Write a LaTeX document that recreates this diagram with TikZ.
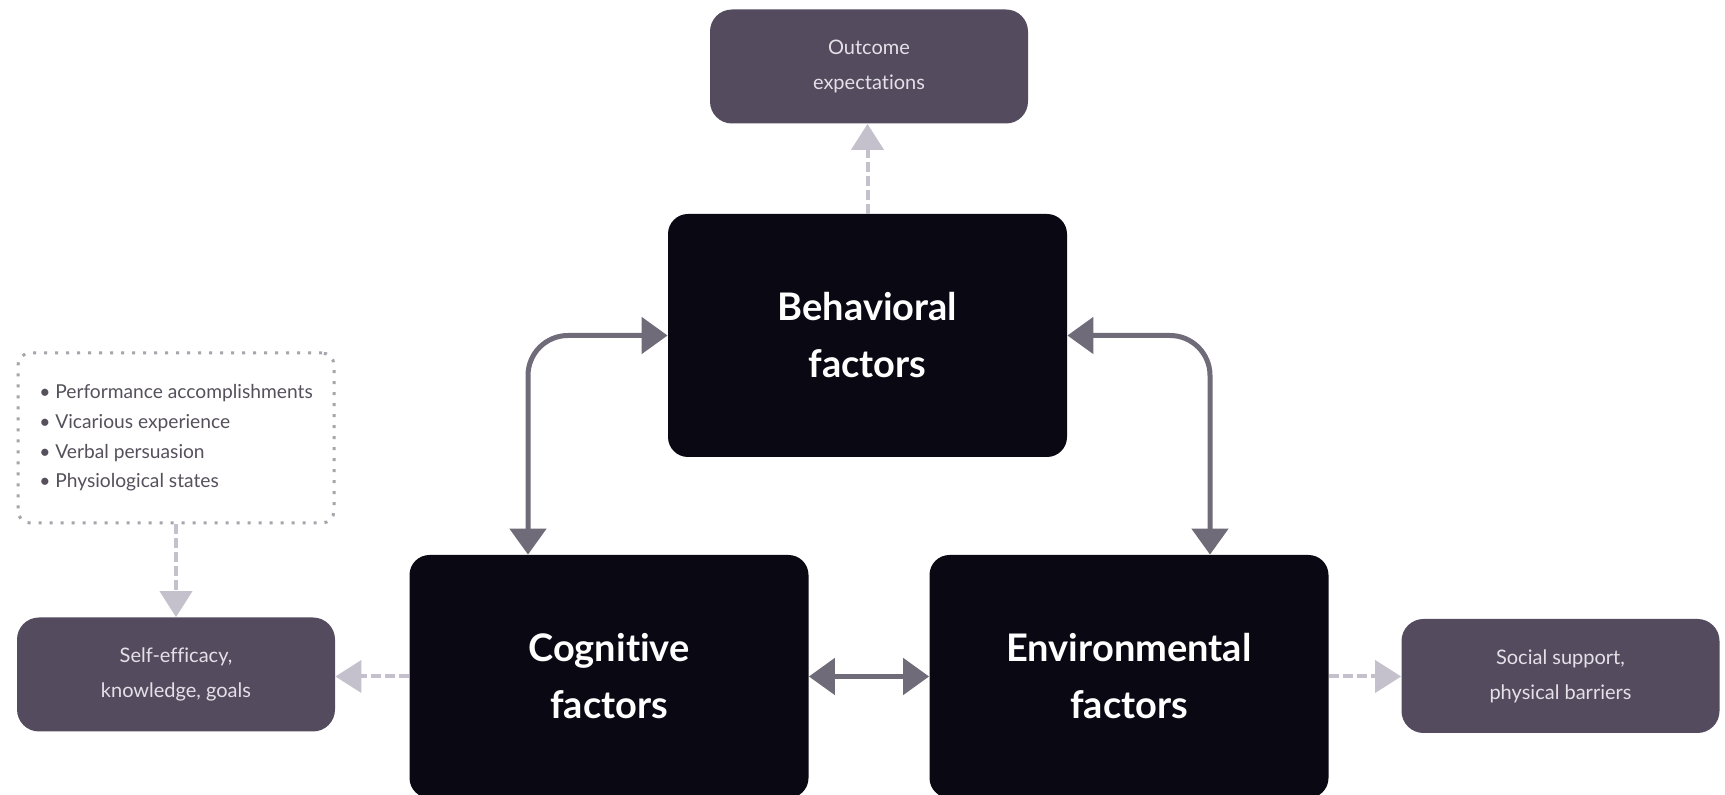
\documentclass[tikz,border=0pt]{standalone}
\usepackage{fontspec}
\setmainfont{Lato}[Ligatures=NoCommon]
\usetikzlibrary{arrows.meta,calc}
\definecolor{boxblack}{HTML}{0A0812}
\definecolor{boxgray}{HTML}{544C5E}
\definecolor{boxtext}{HTML}{E4E0E8}
\definecolor{listtext}{HTML}{55505C}
\definecolor{listline}{HTML}{A8A4AC}
\definecolor{arrowdark}{HTML}{6F6B78}
\definecolor{arrowlight}{HTML}{C4C0CC}
\begin{document}
\begin{tikzpicture}[x=0.5pt,y=-0.5pt,
  mainbox/.style={fill=boxblack, text=white, rounded corners=10pt,
    minimum width=199.5pt, minimum height=121.5pt, align=center,
    font=\fontsize{19}{28.5}\selectfont\bfseries},
  sidebox/.style={fill=boxgray, text=boxtext, rounded corners=11pt,
    minimum width=159pt, minimum height=57pt, align=center,
    font=\fontsize{10}{17.5}\selectfont},
  listbox/.style={draw=listline, line width=1.5pt, dash pattern=on 1.5pt off 4pt,
    rounded corners=6pt, minimum width=158pt, minimum height=85pt,
    align=left, text=listtext, font=\fontsize{9.6}{14.8}\selectfont},
  link/.style={draw=arrowdark, line width=2.5pt, rounded corners=20pt,
    {Triangle[width=18pt,length=13pt]}-{Triangle[width=18pt,length=13pt]}},
  faint/.style={draw=arrowlight, line width=2pt, dash pattern=on 5pt off 2pt,
    -{Triangle[width=16pt,length=13pt]}}]
  \fill[white] (0,0) rectangle (1725,795);
  \useasboundingbox (0,0) rectangle (1725,795);
  % Top
  \node[sidebox] (outcome) at (869,66.5) {Outcome\\expectations};
  \node[mainbox] (behav) at (867.5,335.5) {Behavioral\\factors};
  % Left side
  \node[listbox] (sources) at (176,438) {%
    • Performance accomplishments\\
    • Vicarious experience\\
    • Verbal persuasion\\
    • Physiological states};
  \node[sidebox] (efficacy) at (176,674.5) {Self-efficacy,\\knowledge, goals};
  % Bottom row
  \node[mainbox] (cog) at (609,676.5) {Cognitive\\factors};
  \node[mainbox] (env) at (1129,676.5) {Environmental\\factors};
  \node[sidebox] (social) at (1560.5,676) {Social support,\\physical barriers};
  % Reciprocal links
  \draw[link] (behav.west) -| ([xshift=-40.5pt]cog.north);
  \draw[link] (behav.east) -| ([xshift=40.5pt]env.north);
  \draw[link] (cog.east) -- (env.west);
  % Outcomes
  \draw[faint] (behav.north) -- (behav.north |- outcome.south);
  \draw[faint] (sources.south) -- (efficacy.north);
  \draw[faint] (cog.west) -- (cog.west -| efficacy.east);
  \draw[faint] (env.east) -- (env.east -| social.west);
\end{tikzpicture}
\end{document}
